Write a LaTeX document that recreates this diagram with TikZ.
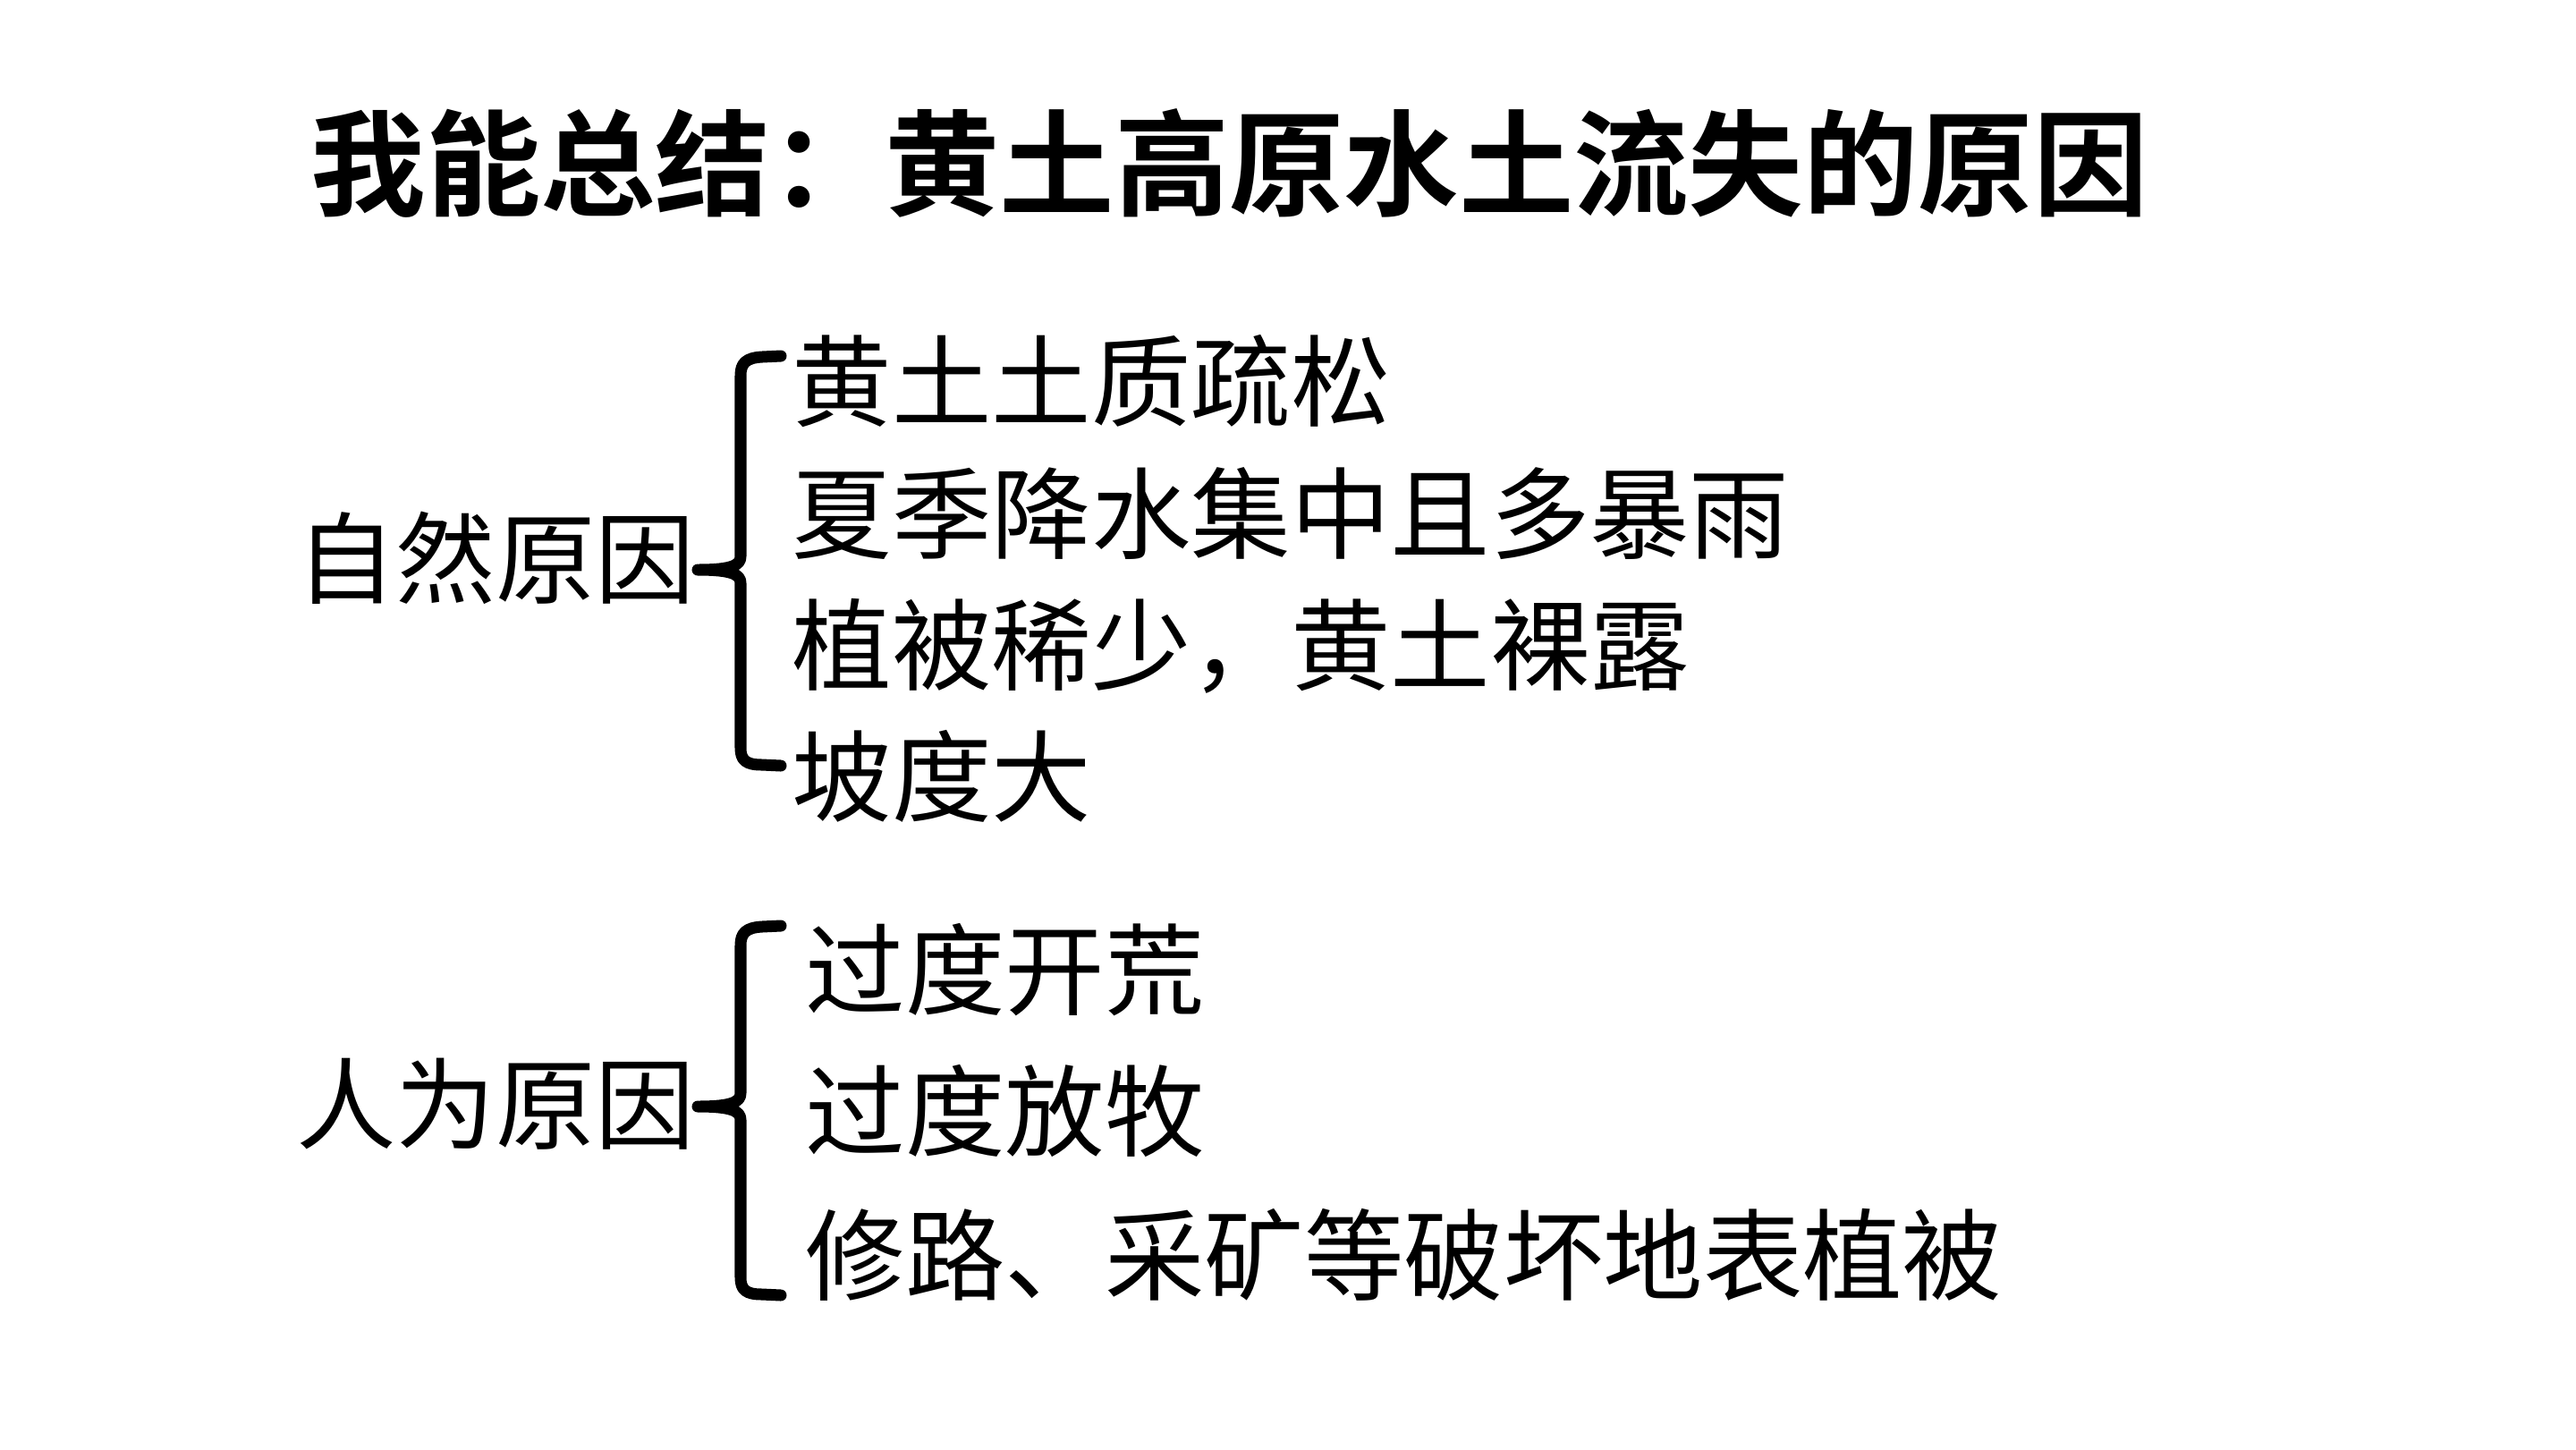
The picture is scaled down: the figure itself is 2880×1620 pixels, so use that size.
\documentclass[tikz,border=0pt]{standalone}
\usepackage{fontspec}
\setmainfont{Noto Sans CJK SC}
\newfontfamily\titlefont{Noto Sans CJK SC Bold}
\begin{document}
\begin{tikzpicture}[x=0.01cm,y=-0.01cm,
  body/.style={inner sep=0pt,font=\fontsize{31.7}{31.7}\selectfont},
  brace/.style={line width=3.7pt,line cap=round,line join=round}]
\fill[white] (0,0) rectangle (2880,1620);
\useasboundingbox (0,0) rectangle (2880,1620);
\node[inner sep=0pt,anchor=west,font=\titlefont\fontsize{36.5}{36.5}\selectfont] (title) at (347,182) {我能总结：黄土高原水土流失的原因};
% group 1
\node[body,anchor=east] (nat) at (778,624) {自然原因};
\node[body,anchor=west] (a1) at (885,426) {黄土土质疏松};
\node[body,anchor=west] (a2) at (885,574) {夏季降水集中且多暴雨};
\node[body,anchor=west] (a3) at (885,722) {植被稀少，黄土裸露};
\node[body,anchor=west] (a4) at (885,868) {坡度大};
\coordinate (b1t) at (873,398);
\coordinate (b1m) at (780,637);
\coordinate (b1b) at (873,856);
\draw[brace] (b1t) -- (852,399) .. controls (834,400) and (828,406) .. (828,420) -- (828,622)
  .. controls (828,632) and (818,637) .. (b1m)
  .. controls (818,637) and (828,642) .. (828,652) -- (828,836)
  .. controls (828,850) and (834,855) .. (852,855) -- (b1b);
% group 2
\node[body,anchor=east] (hum) at (778,1234) {人为原因};
\node[body,anchor=west] (c1) at (900,1084) {过度开荒};
\node[body,anchor=west] (c2) at (900,1242) {过度放牧};
\node[body,anchor=west] (c3) at (900,1403) {修路、采矿等破坏地表植被};
\coordinate (b2t) at (873,1035);
\coordinate (b2m) at (780,1237);
\coordinate (b2b) at (873,1448);
\draw[brace] (b2t) -- (852,1036) .. controls (834,1037) and (828,1043) .. (828,1057) -- (828,1222)
  .. controls (828,1232) and (818,1237) .. (b2m)
  .. controls (818,1237) and (828,1242) .. (828,1252) -- (828,1428)
  .. controls (828,1442) and (834,1447) .. (852,1447) -- (b2b);
\end{tikzpicture}
\end{document}
